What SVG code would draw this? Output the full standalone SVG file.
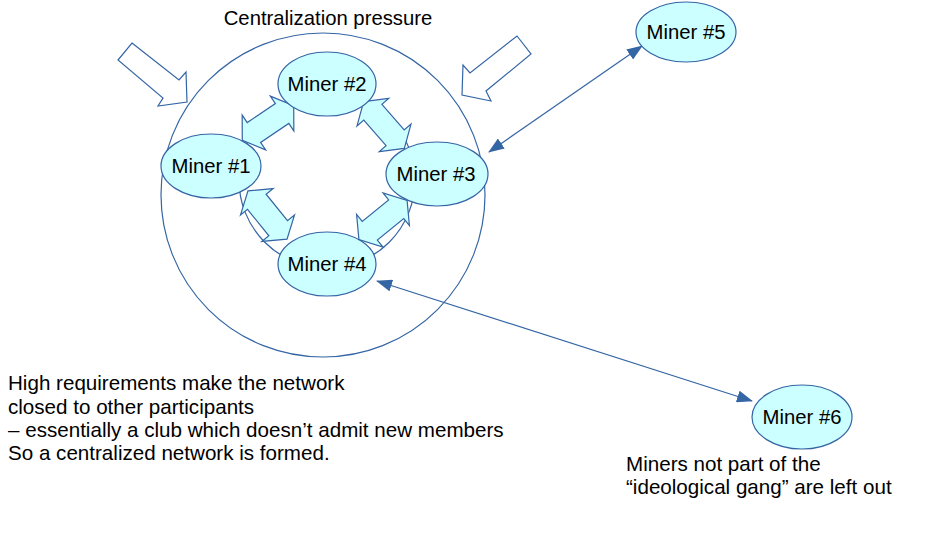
<svg xmlns="http://www.w3.org/2000/svg" width="930" height="537" viewBox="0 0 930 537">
<style>
.node{fill:#ccffff;stroke:#3465a4;stroke-width:1.2}
.blk{fill:#ccffff;stroke:#3465a4;stroke-width:1.2;stroke-linejoin:miter}
.hollow{fill:#ffffff;stroke:#3465a4;stroke-width:1.2}
.ring{fill:none;stroke:#3465a4;stroke-width:1.2}
.conn{fill:none;stroke:#3465a4;stroke-width:1.2}
text{font-family:"Liberation Sans",Arial,sans-serif;font-size:20.3px;fill:#000}
.c{text-anchor:middle}
.n{font-size:20.6px}
</style>
<defs>
<polygon id="dbl" points="-31,0 -17,-21 -17,-12 17,-12 17,-21 31,0 17,21 17,12 -17,12 -17,21"/>
<marker id="ah" markerUnits="userSpaceOnUse" markerWidth="16" markerHeight="12" viewBox="0 0 16 12" refX="15" refY="6" orient="auto-start-reverse">
<path d="M0,0 L16,6 L0,12 Z" fill="#3465a4"/>
</marker>
</defs>
<text class="c" x="328" y="25">Centralization pressure</text>
<circle class="ring" cx="323" cy="195" r="162"/>
<circle class="ring" cx="327" cy="180" r="88"/>
<polygon class="hollow" points="132,43 179,80 186,72 187,102 158,106 163,98 118,60"/>
<polygon class="hollow" points="517,36 531,54 486,91 491,101 462,95 463,65 470,73"/>
<g id="blockarrows">
<use href="#dbl" class="blk" transform="translate(268,123) rotate(-34)"/>
<use href="#dbl" class="blk" transform="translate(384,125) rotate(49)"/>
<use href="#dbl" class="blk" transform="translate(267.5,215) rotate(51)"/>
<use href="#dbl" class="blk" transform="translate(383,220) rotate(-39)"/>
</g>
<g id="connectors">
<line class="conn" x1="489" y1="152" x2="642" y2="46" marker-start="url(#ah)" marker-end="url(#ah)"/>
<line class="conn" x1="377" y1="281" x2="752" y2="401" marker-start="url(#ah)" marker-end="url(#ah)"/>
</g>
<g id="miner1"><ellipse class="node" cx="211" cy="166" rx="50" ry="32"/><text class="c" x="211" y="173">Miner #1</text></g>
<g id="miner2"><ellipse class="node" cx="327" cy="84" rx="49" ry="32"/><text class="c" x="327" y="91">Miner #2</text></g>
<g id="miner3"><ellipse class="node" cx="437" cy="174" rx="51" ry="32"/><text class="c" x="436" y="181">Miner #3</text></g>
<g id="miner4"><ellipse class="node" cx="327" cy="264" rx="49" ry="32"/><text class="c" x="327" y="271">Miner #4</text></g>
<g id="miner5"><ellipse class="node" cx="686" cy="32" rx="50" ry="30"/><text class="c" x="686" y="39">Miner #5</text></g>
<g id="miner6"><ellipse class="node" cx="802" cy="417" rx="50" ry="32"/><text class="c" x="802" y="424">Miner #6</text></g>
<g id="notes">
<text class="n" x="8" y="390">High requirements make the network</text>
<text class="n" x="8" y="414">closed to other participants</text>
<text class="n" x="8" y="437">– essentially a club which doesn’t admit new members</text>
<text class="n" x="8" y="460">So a centralized network is formed.</text>
<text class="n" x="626" y="471">Miners not part of the</text>
<text class="n" x="626" y="494">“ideological gang” are left out</text>
</g>
</svg>
